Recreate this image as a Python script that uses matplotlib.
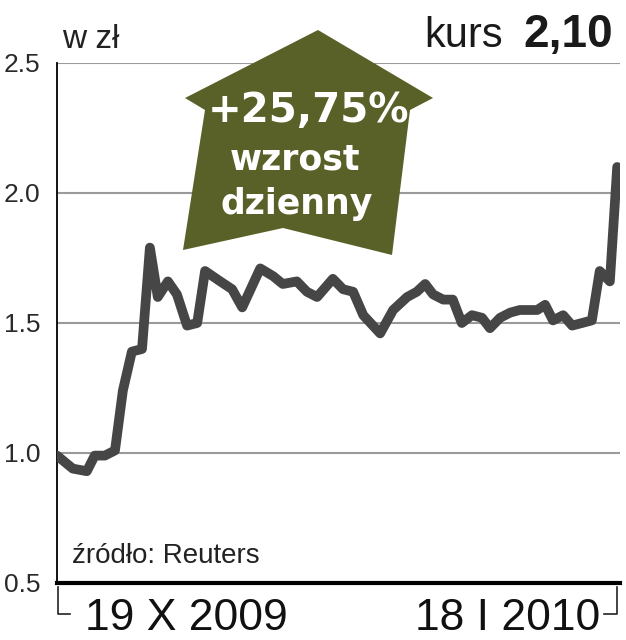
import numpy as np
from matplotlib import pyplot as plt
from matplotlib.patches import Polygon
from matplotlib.lines import Line2D

plt.rcParams['font.family'] = ['Liberation Sans', 'DejaVu Sans']

# kurs w zl, os x: pozycja w okresie 19 X 2009 - 18 I 2010 (0-100)
dni = [0, 2.8, 5.3, 6.7, 8.5, 10.3, 11.7, 13.3, 15.1, 16.5, 17.9, 19.7, 21.3, 23.1, 24.9,
       26.3, 29.0, 31.1, 32.9, 36.1, 38.4, 40.1, 42.6, 44.4, 46.2, 49.0, 50.8, 52.6,
       54.4, 57.4, 59.7, 62.2, 63.9, 65.4, 66.8, 68.6, 70.3, 71.9, 73.7, 75.5, 76.9,
       78.7, 80.5, 82.2, 85.3, 86.7, 88.1, 89.9, 91.5, 95.0, 96.4, 98.2, 99.5]
kurs = [0.99, 0.94, 0.93, 0.99, 0.99, 1.01, 1.24, 1.39, 1.40, 1.79, 1.60, 1.66, 1.61, 1.49, 1.50,
        1.70, 1.66, 1.63, 1.56, 1.71, 1.68, 1.65, 1.66, 1.62, 1.60, 1.67, 1.63, 1.62,
        1.53, 1.46, 1.55, 1.60, 1.62, 1.65, 1.61, 1.59, 1.59, 1.50, 1.53, 1.52, 1.48,
        1.52, 1.54, 1.55, 1.55, 1.57, 1.51, 1.53, 1.49, 1.51, 1.70, 1.66, 2.10]
yticks = [0.5, 1.0, 1.5, 2.0, 2.5]
ytick_labels = ['0.5', '1.0', '1.5', '2.0', '2.5']

W, H = 626, 640
fig = plt.figure(figsize=(W / 100, H / 100), dpi=100)
ax = fig.add_axes([57 / W, 57 / H, 563 / W, 520 / H])

for v in yticks[1:]:
    ax.axhline(v, color='#9a9a9a', lw=1.5, zorder=1)

ax.plot(dni, kurs, color='#464646', lw=7, solid_joinstyle='round',
        solid_capstyle='round', zorder=3)

ax.set_xlim(0, 100)
ax.set_ylim(0.5, 2.5)
ax.set_xticks([])
ax.set_yticks(yticks)
ax.set_yticklabels(ytick_labels)
ax.tick_params(axis='y', length=0, pad=12, labelsize=19, labelcolor='#2a2a2a')
for s in ['top', 'right']:
    ax.spines[s].set_visible(False)
ax.spines['left'].set_linewidth(1.3)
ax.spines['bottom'].set_linewidth(3)
ax.spines['bottom'].set_zorder(4)


def fx(px):
    return px / W


def fy(py):
    return 1 - py / H


# strzalka
pts = [(318, 30), (433, 98), (410, 110), (392, 255), (283, 228),
       (183, 250), (205, 110), (185, 98)]
arrow = Polygon([(fx(a), fy(b)) for a, b in pts], closed=True, transform=fig.transFigure,
                facecolor='#5a6128', edgecolor='none', zorder=5)
fig.patches.append(arrow)

fig.text(fx(308), fy(122), '+25,75%', color='white', fontsize=29, fontweight='bold',
         family='DejaVu Sans', ha='center', va='baseline', zorder=6)
fig.text(fx(295), fy(170), 'wzrost', color='white', fontsize=25, fontweight='bold',
         family='DejaVu Sans', ha='center', va='baseline', zorder=6)
fig.text(fx(297), fy(214), 'dzienny', color='white', fontsize=25, fontweight='bold',
         family='DejaVu Sans', ha='center', va='baseline', zorder=6)

# naglowek
fig.text(fx(62), fy(48), 'w zł', fontsize=24, color='#222222', va='baseline')
fig.text(fx(613), fy(47), '2,10', fontsize=33, fontweight='bold', color='#1a1a1a',
         ha='right', va='baseline')
fig.text(fx(503), fy(47), 'kurs', fontsize=30, color='#1a1a1a', ha='right', va='baseline')

fig.text(fx(72), fy(563), 'źródło: Reuters', fontsize=20, color='#222222', va='baseline')

# daty
fig.text(fx(85), fy(630), '19 X 2009', fontsize=32, color='#111111', va='baseline')
fig.text(fx(600), fy(630), '18 I 2010', fontsize=32, color='#111111', ha='right', va='baseline')
fig.lines.append(Line2D([fx(58), fx(58), fx(70)], [fy(587), fy(614), fy(614)],
                        transform=fig.transFigure, color='#222222', lw=1.2))
fig.lines.append(Line2D([fx(604), fx(617), fx(617)], [fy(614), fy(614), fy(587)],
                        transform=fig.transFigure, color='#222222', lw=1.2))

plt.savefig('out.png', dpi=100)
plt.close()
